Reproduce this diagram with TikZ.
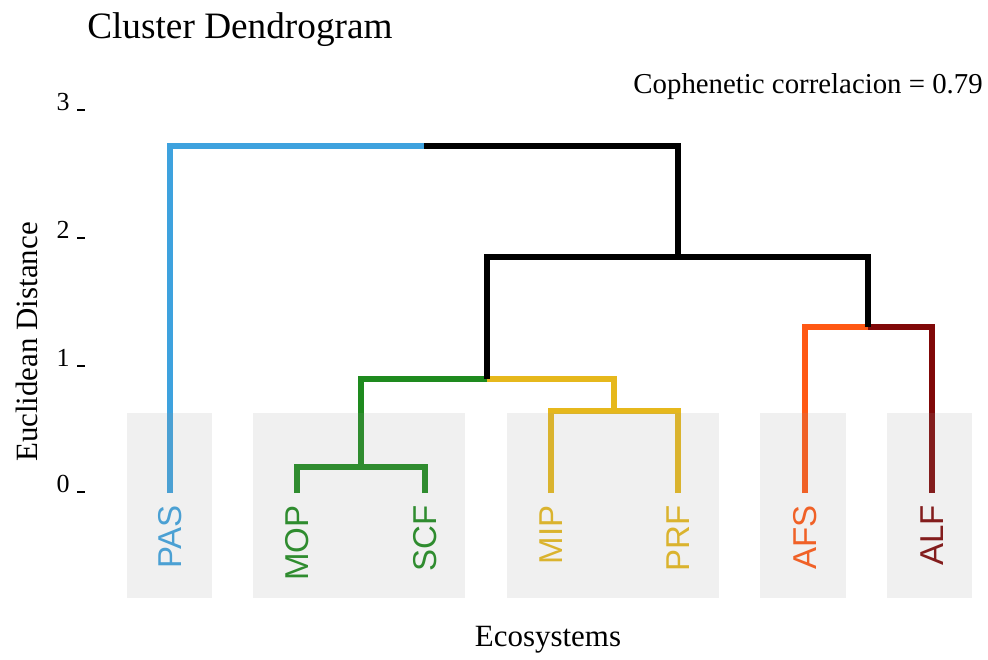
\documentclass[tikz,border=0pt]{standalone}
\usepackage{fontspec}
\setmainfont{Liberation Serif}
\setsansfont{Liberation Sans}
\usetikzlibrary{positioning}
\definecolor{pasblue}{RGB}{62,162,222}
\definecolor{mopgreen}{RGB}{30,138,30}
\definecolor{mipgold}{RGB}{230,184,28}
\definecolor{afsorange}{RGB}{255,88,20}
\definecolor{alfred}{RGB}{128,8,8}
\tikzset{
	branch/.style={line width=4.4pt, line cap=butt, line join=miter},
	leaf/.style={rotate=90, anchor=east, inner sep=0pt, font=\sffamily\fontsize{23.5}{23.5}\selectfont},
	% light grey group boxes, laid over the branches
	groupbox/.style={fill=black!40, fill opacity=0.147},
	ticklab/.style={anchor=base east, inner sep=0pt, font=\fontsize{18.5}{18.5}\selectfont},
	tickmark/.style={line width=2.1pt},
	axislab/.style={inner sep=0pt, font=\fontsize{22}{22}\selectfont},
}

\begin{document}
\begin{tikzpicture}[x=0.025cm, y=-0.025cm]
	\useasboundingbox (0,0) rectangle (988,659);
	
	\node (title) [anchor=base west, inner sep=0pt, font=\fontsize{26.5}{26.5}\selectfont] at (87,38) {Cluster Dendrogram};
	\node (coph) [anchor=base east, inner sep=0pt, font=\fontsize{20.5}{20.5}\selectfont] at (983,93) {Cophenetic correlacion = 0.79};
	\node (ylab) [axislab, rotate=90] at (27,342) {Euclidean Distance};
	\node (xlab) [axislab] at (548,640) {Ecosystems};
	
	\foreach \v/\y in {0/492, 1/366, 2/238, 3/110} {
		\node (tick\v) [ticklab] at (70,\y) {\v};
		\draw[tickmark] (77,\y) -- (85,\y);
	}
	
	% leaf tops and merge points
	\coordinate (tPAS) at (170,493);
	\coordinate (tMOP) at (297,493);
	\coordinate (tSCF) at (425,493);
	\coordinate (tMIP) at (551,493);
	\coordinate (tPRF) at (678,493);
	\coordinate (tAFS) at (805,493);
	\coordinate (tALF) at (932,493);
	
	\coordinate (mMS) at (361,467);
	\coordinate (mMP) at (614,411);
	\coordinate (mGY) at (487,379);
	\coordinate (mAA) at (868,327);
	\coordinate (mIn) at (678,257);
	\coordinate (mTop) at (424,146);
	
	\draw[branch, mopgreen] (tMOP) |- (mMS);
	\draw[branch, mopgreen] (tSCF) |- (mMS);
	\draw[branch, mipgold] (tMIP) |- (mMP);
	\draw[branch, mipgold] (tPRF) |- (mMP);
	\draw[branch, mopgreen] (mMS) |- (mGY);
	\draw[branch, mipgold] (mMP) |- (mGY);
	\draw[branch, afsorange] (tAFS) |- (mAA);
	\draw[branch, alfred] (tALF) |- (mAA);
	\draw[branch] (mGY) |- (mIn);
	\draw[branch] (mAA) |- (mIn);
	\draw[branch, pasblue] (tPAS) |- (mTop);
	\draw[branch] (mIn) |- (mTop);
	
	\node (PAS) [leaf, text=pasblue] at (170,505) {PAS};
	\node (MOP) [leaf, text=mopgreen] at (297,505) {MOP};
	\node (SCF) [leaf, text=mopgreen] at (425,505) {SCF};
	\node (MIP) [leaf, text=mipgold] at (551,505) {MIP};
	\node (PRF) [leaf, text=mipgold] at (678,505) {PRF};
	\node (AFS) [leaf, text=afsorange] at (805,505) {AFS};
	\node (ALF) [leaf, text=alfred] at (932,505) {ALF};
	
	\foreach \l/\r in {127/212, 253/465, 507/719, 760/846, 887/972}
		\fill[groupbox] (\l,413) rectangle (\r,598);
\end{tikzpicture}
\end{document}
